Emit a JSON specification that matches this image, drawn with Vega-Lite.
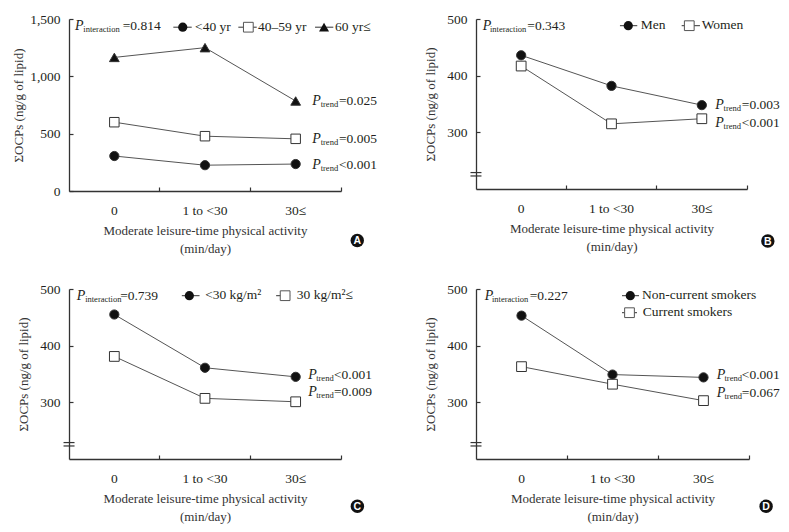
{
"$schema":"https://vega.github.io/schema/vega-lite/v6.json",
"padding":{"left":12,"top":12,"right":0,"bottom":0},
"background":"white",
"datasets":{"ocps":[
{"panel":"A","group":"<40 yr","activity":"0","ocps":305},
{"panel":"A","group":"<40 yr","activity":"1 to <30","ocps":225},
{"panel":"A","group":"<40 yr","activity":"30≤","ocps":235},
{"panel":"A","group":"40–59 yr","activity":"0","ocps":600},
{"panel":"A","group":"40–59 yr","activity":"1 to <30","ocps":478},
{"panel":"A","group":"40–59 yr","activity":"30≤","ocps":455},
{"panel":"A","group":"60 yr≤","activity":"0","ocps":1165},
{"panel":"A","group":"60 yr≤","activity":"1 to <30","ocps":1250},
{"panel":"A","group":"60 yr≤","activity":"30≤","ocps":785},
{"panel":"B","group":"Men","activity":"0","ocps":436},
{"panel":"B","group":"Men","activity":"1 to <30","ocps":382},
{"panel":"B","group":"Men","activity":"30≤","ocps":348},
{"panel":"B","group":"Women","activity":"0","ocps":417},
{"panel":"B","group":"Women","activity":"1 to <30","ocps":315},
{"panel":"B","group":"Women","activity":"30≤","ocps":324},
{"panel":"C","group":"<30 kg/m²","activity":"0","ocps":455},
{"panel":"C","group":"<30 kg/m²","activity":"1 to <30","ocps":361},
{"panel":"C","group":"<30 kg/m²","activity":"30≤","ocps":345},
{"panel":"C","group":"30 kg/m²≤","activity":"0","ocps":381},
{"panel":"C","group":"30 kg/m²≤","activity":"1 to <30","ocps":307},
{"panel":"C","group":"30 kg/m²≤","activity":"30≤","ocps":301},
{"panel":"D","group":"Non-current smokers","activity":"0","ocps":453},
{"panel":"D","group":"Non-current smokers","activity":"1 to <30","ocps":349},
{"panel":"D","group":"Non-current smokers","activity":"30≤","ocps":344},
{"panel":"D","group":"Current smokers","activity":"0","ocps":363},
{"panel":"D","group":"Current smokers","activity":"1 to <30","ocps":332},
{"panel":"D","group":"Current smokers","activity":"30≤","ocps":303}
]},
"config":{"view":{"stroke":null},
"axis":{"domainColor":"#333","domainWidth":1.3,"tickColor":"#333","tickWidth":1.2,"labelFont":"Liberation Serif","labelFontSize":13.5,"labelColor":"#231f20","titleFont":"Liberation Serif","titleFontSize":13,"titleFontWeight":"normal","titleColor":"#333","grid":false},
"text":{"font":"Liberation Serif","color":"#231f20","align":"left","baseline":"middle"}},
"resolve":{"scale":{"x":"independent","y":"independent","shape":"independent","fill":"independent","size":"independent"}},
"columns":2,
"spacing":{"row":26,"column":47},
"concat":[
{"width":272,"height":172,
"layer":[
{"data":{"name":"ocps"},"transform":[{"filter":"datum.panel === 'A'"}],
"mark":{"type":"line","color":"#555","strokeWidth":1},
"encoding":{
"x":{"field":"activity","type":"nominal","scale":{"type":"band","domain":["0","1 to <30","30≤"],"paddingInner":0,"paddingOuter":0},"axis":{"title":["Moderate leisure-time physical activity","(min/day)"],"bandPosition":1,"labelOffset":0,"tickSize":-4,"labelPadding":16,"labelAngle":0,"titlePadding":8,"titleLineHeight":18}},
"y":{"field":"ocps","type":"quantitative","scale":{"domain":[0,1500],"nice":false,"zero":false},"axis":{"title":"ΣOCPs (ng/g of lipid)","values":[0,500,1000,1500],"format":",.0f","tickSize":-4,"labelPadding":13,"titlePadding":4}},
"detail":{"field":"group"}}},
{"data":{"name":"ocps"},"transform":[{"filter":"datum.panel === 'A'"}],
"mark":{"type":"point","filled":true,"opacity":1,"stroke":"#333","strokeWidth":1},
"encoding":{"x":{"field":"activity","type":"nominal"},"y":{"field":"ocps","type":"quantitative"},
"shape":{"field":"group","type":"nominal","scale":{"domain":["<40 yr","40–59 yr","60 yr≤"],"range":["circle","square","triangle-up"]},"legend":null},
"fill":{"field":"group","type":"nominal","scale":{"domain":["<40 yr","40–59 yr","60 yr≤"],"range":["#111111","#ffffff","#111111"]},"legend":null},
"size":{"field":"group","type":"nominal","scale":{"domain":["<40 yr","40–59 yr","60 yr≤"],"range":[85,95,100]},"legend":null}}},
{"data":{"values":[{}]},"mark":{"type":"text","fontSize":14,"fontStyle":"italic","xOffset":-39.3,"yOffset":7.2},"encoding":{"x":{"datum":"0"},"y":{"datum":1500},"text":{"value":"P"}}},
{"data":{"values":[{}]},"mark":{"type":"text","fontSize":8.5,"xOffset":-31,"yOffset":10.2},"encoding":{"x":{"datum":"0"},"y":{"datum":1500},"text":{"value":"interaction"}}},
{"data":{"values":[{}]},"mark":{"type":"text","fontSize":13.5,"xOffset":8.4,"yOffset":7.2},"encoding":{"x":{"datum":"0"},"y":{"datum":1500},"text":{"value":"=0.814"}}},
{"data":{"values":[{}]},"mark":{"type":"rule","color":"#333","strokeWidth":1,"xOffset":59,"x2Offset":77.4,"yOffset":8.2},"encoding":{"x":{"datum":"0"},"x2":{"datum":"0"},"y":{"datum":1500}}},
{"data":{"values":[{}]},"mark":{"type":"point","shape":"circle","filled":true,"color":"#111","opacity":1,"size":85,"xOffset":68.4,"yOffset":8.2},"encoding":{"x":{"datum":"0"},"y":{"datum":1500}}},
{"data":{"values":[{}]},"mark":{"type":"text","fontSize":13.5,"xOffset":80.7,"yOffset":7.7},"encoding":{"x":{"datum":"0"},"y":{"datum":1500},"text":{"value":"<40 yr"}}},
{"data":{"values":[{}]},"mark":{"type":"rule","color":"#333","strokeWidth":1,"xOffset":124,"x2Offset":142.4,"yOffset":8.2},"encoding":{"x":{"datum":"0"},"x2":{"datum":"0"},"y":{"datum":1500}}},
{"data":{"values":[{}]},"mark":{"type":"point","shape":"square","filled":true,"fill":"white","stroke":"#555","strokeWidth":1,"opacity":1,"size":95,"xOffset":134,"yOffset":8.2},"encoding":{"x":{"datum":"0"},"y":{"datum":1500}}},
{"data":{"values":[{}]},"mark":{"type":"text","fontSize":13.5,"xOffset":143.7,"yOffset":7.7},"encoding":{"x":{"datum":"0"},"y":{"datum":1500},"text":{"value":"40–59 yr"}}},
{"data":{"values":[{}]},"mark":{"type":"rule","color":"#333","strokeWidth":1,"xOffset":200.7,"x2Offset":219,"yOffset":8.2},"encoding":{"x":{"datum":"0"},"x2":{"datum":"0"},"y":{"datum":1500}}},
{"data":{"values":[{}]},"mark":{"type":"point","shape":"triangle-up","filled":true,"color":"#111","opacity":1,"size":100,"xOffset":209.7,"yOffset":8.2},"encoding":{"x":{"datum":"0"},"y":{"datum":1500}}},
{"data":{"values":[{}]},"mark":{"type":"text","fontSize":13.5,"xOffset":220.7,"yOffset":7.7},"encoding":{"x":{"datum":"0"},"y":{"datum":1500},"text":{"value":"60 yr≤"}}},
{"data":{"values":[{}]},"mark":{"type":"text","fontSize":14,"fontStyle":"italic","xOffset":16.6,"yOffset":0},"encoding":{"x":{"datum":"30≤"},"y":{"datum":785},"text":{"value":"P"}}},
{"data":{"values":[{}]},"mark":{"type":"text","fontSize":8.5,"xOffset":25,"yOffset":3},"encoding":{"x":{"datum":"30≤"},"y":{"datum":785},"text":{"value":"trend"}}},
{"data":{"values":[{}]},"mark":{"type":"text","fontSize":13.5,"xOffset":43.3,"yOffset":0},"encoding":{"x":{"datum":"30≤"},"y":{"datum":785},"text":{"value":"=0.025"}}},
{"data":{"values":[{}]},"mark":{"type":"text","fontSize":14,"fontStyle":"italic","xOffset":16.6,"yOffset":0},"encoding":{"x":{"datum":"30≤"},"y":{"datum":455},"text":{"value":"P"}}},
{"data":{"values":[{}]},"mark":{"type":"text","fontSize":8.5,"xOffset":25,"yOffset":3},"encoding":{"x":{"datum":"30≤"},"y":{"datum":455},"text":{"value":"trend"}}},
{"data":{"values":[{}]},"mark":{"type":"text","fontSize":13.5,"xOffset":43.3,"yOffset":0},"encoding":{"x":{"datum":"30≤"},"y":{"datum":455},"text":{"value":"=0.005"}}},
{"data":{"values":[{}]},"mark":{"type":"text","fontSize":14,"fontStyle":"italic","xOffset":16.6,"yOffset":0.7},"encoding":{"x":{"datum":"30≤"},"y":{"datum":235},"text":{"value":"P"}}},
{"data":{"values":[{}]},"mark":{"type":"text","fontSize":8.5,"xOffset":25,"yOffset":3.7},"encoding":{"x":{"datum":"30≤"},"y":{"datum":235},"text":{"value":"trend"}}},
{"data":{"values":[{}]},"mark":{"type":"text","fontSize":13.5,"xOffset":43.3,"yOffset":0.7},"encoding":{"x":{"datum":"30≤"},"y":{"datum":235},"text":{"value":"<0.001"}}},
{"data":{"values":[{}]},"mark":{"type":"point","shape":"circle","filled":true,"color":"#111","opacity":1,"size":180,"xOffset":61.6,"yOffset":49.5},"encoding":{"x":{"datum":"30≤"},"y":{"datum":0}}},
{"data":{"values":[{}]},"mark":{"type":"text","font":"Liberation Sans","fontWeight":"bold","fontSize":10.5,"color":"white","align":"center","xOffset":61.6,"yOffset":50},"encoding":{"x":{"datum":"30≤"},"y":{"datum":0},"text":{"value":"A"}}}
]},
{"width":271,"height":170,
"layer":[
{"data":{"name":"ocps"},"transform":[{"filter":"datum.panel === 'B'"}],
"mark":{"type":"line","color":"#555","strokeWidth":1},
"encoding":{
"x":{"field":"activity","type":"nominal","scale":{"type":"band","domain":["0","1 to <30","30≤"],"paddingInner":0,"paddingOuter":0},"axis":{"title":["Moderate leisure-time physical activity","(min/day)"],"bandPosition":1,"labelOffset":0,"tickSize":-4,"labelPadding":16,"labelAngle":0,"titlePadding":8,"titleLineHeight":18}},
"y":{"field":"ocps","type":"quantitative","scale":{"domain":[200,500],"nice":false,"zero":false},"axis":{"title":"ΣOCPs (ng/g of lipid)","values":[300,400,500],"tickSize":-4,"labelPadding":13,"titlePadding":9}},
"detail":{"field":"group"}}},
{"data":{"name":"ocps"},"transform":[{"filter":"datum.panel === 'B'"}],
"mark":{"type":"point","filled":true,"opacity":1,"stroke":"#333","strokeWidth":1},
"encoding":{"x":{"field":"activity","type":"nominal"},"y":{"field":"ocps","type":"quantitative"},
"shape":{"field":"group","type":"nominal","scale":{"domain":["Men","Women"],"range":["circle","square"]},"legend":null},
"fill":{"field":"group","type":"nominal","scale":{"domain":["Men","Women"],"range":["#111111","#ffffff"]},"legend":null},
"size":{"field":"group","type":"nominal","scale":{"domain":["Men","Women"],"range":[85,95]},"legend":null}}},
{"data":{"values":[{}]},"mark":{"type":"rule","color":"#333","strokeWidth":1.2,"xOffset":-50.7,"x2Offset":-39.7},"encoding":{"x":{"datum":"0"},"x2":{"datum":"0"},"y":{"datum":229}}},
{"data":{"values":[{}]},"mark":{"type":"rule","color":"#333","strokeWidth":1.2,"xOffset":-50.7,"x2Offset":-39.7},"encoding":{"x":{"datum":"0"},"x2":{"datum":"0"},"y":{"datum":223}}},
{"data":{"values":[{}]},"mark":{"type":"text","fontSize":14,"fontStyle":"italic","xOffset":-38.5,"yOffset":6.7},"encoding":{"x":{"datum":"0"},"y":{"datum":500},"text":{"value":"P"}}},
{"data":{"values":[{}]},"mark":{"type":"text","fontSize":8.5,"xOffset":-31.2,"yOffset":9.7},"encoding":{"x":{"datum":"0"},"y":{"datum":500},"text":{"value":"interaction"}}},
{"data":{"values":[{}]},"mark":{"type":"text","fontSize":13.5,"xOffset":6.1,"yOffset":6.7},"encoding":{"x":{"datum":"0"},"y":{"datum":500},"text":{"value":"=0.343"}}},
{"data":{"values":[{}]},"mark":{"type":"rule","color":"#333","strokeWidth":1,"xOffset":98.8,"x2Offset":116.1,"yOffset":6.7},"encoding":{"x":{"datum":"0"},"x2":{"datum":"0"},"y":{"datum":500}}},
{"data":{"values":[{}]},"mark":{"type":"point","shape":"circle","filled":true,"color":"#111","opacity":1,"size":85,"xOffset":107.1,"yOffset":6.7},"encoding":{"x":{"datum":"0"},"y":{"datum":500}}},
{"data":{"values":[{}]},"mark":{"type":"text","fontSize":13.5,"xOffset":119.5,"yOffset":6.2},"encoding":{"x":{"datum":"0"},"y":{"datum":500},"text":{"value":"Men"}}},
{"data":{"values":[{}]},"mark":{"type":"rule","color":"#333","strokeWidth":1,"xOffset":160.5,"x2Offset":178.8,"yOffset":6.7},"encoding":{"x":{"datum":"0"},"x2":{"datum":"0"},"y":{"datum":500}}},
{"data":{"values":[{}]},"mark":{"type":"point","shape":"square","filled":true,"fill":"white","stroke":"#555","strokeWidth":1,"opacity":1,"size":95,"xOffset":168.1,"yOffset":6.7},"encoding":{"x":{"datum":"0"},"y":{"datum":500}}},
{"data":{"values":[{}]},"mark":{"type":"text","fontSize":13.5,"xOffset":180.5,"yOffset":6.2},"encoding":{"x":{"datum":"0"},"y":{"datum":500},"text":{"value":"Women"}}},
{"data":{"values":[{}]},"mark":{"type":"text","fontSize":14,"fontStyle":"italic","xOffset":13.4,"yOffset":0},"encoding":{"x":{"datum":"30≤"},"y":{"datum":348},"text":{"value":"P"}}},
{"data":{"values":[{}]},"mark":{"type":"text","fontSize":8.5,"xOffset":21.7,"yOffset":3},"encoding":{"x":{"datum":"30≤"},"y":{"datum":348},"text":{"value":"trend"}}},
{"data":{"values":[{}]},"mark":{"type":"text","fontSize":13.5,"xOffset":40,"yOffset":0},"encoding":{"x":{"datum":"30≤"},"y":{"datum":348},"text":{"value":"=0.003"}}},
{"data":{"values":[{}]},"mark":{"type":"text","fontSize":14,"fontStyle":"italic","xOffset":13.4,"yOffset":4.7},"encoding":{"x":{"datum":"30≤"},"y":{"datum":324},"text":{"value":"P"}}},
{"data":{"values":[{}]},"mark":{"type":"text","fontSize":8.5,"xOffset":21.7,"yOffset":7.7},"encoding":{"x":{"datum":"30≤"},"y":{"datum":324},"text":{"value":"trend"}}},
{"data":{"values":[{}]},"mark":{"type":"text","fontSize":13.5,"xOffset":40,"yOffset":4.7},"encoding":{"x":{"datum":"30≤"},"y":{"datum":324},"text":{"value":"<0.001"}}},
{"data":{"values":[{}]},"mark":{"type":"point","shape":"circle","filled":true,"color":"#111","opacity":1,"size":180,"xOffset":66,"yOffset":52},"encoding":{"x":{"datum":"30≤"},"y":{"datum":200}}},
{"data":{"values":[{}]},"mark":{"type":"text","font":"Liberation Sans","fontWeight":"bold","fontSize":10.5,"color":"white","align":"center","xOffset":66,"yOffset":52.5},"encoding":{"x":{"datum":"30≤"},"y":{"datum":200},"text":{"value":"B"}}}
]},
{"width":272,"height":170,
"layer":[
{"data":{"name":"ocps"},"transform":[{"filter":"datum.panel === 'C'"}],
"mark":{"type":"line","color":"#555","strokeWidth":1},
"encoding":{
"x":{"field":"activity","type":"nominal","scale":{"type":"band","domain":["0","1 to <30","30≤"],"paddingInner":0,"paddingOuter":0},"axis":{"title":["Moderate leisure-time physical activity","(min/day)"],"bandPosition":1,"labelOffset":0,"tickSize":-4,"labelPadding":16,"labelAngle":0,"titlePadding":8,"titleLineHeight":18}},
"y":{"field":"ocps","type":"quantitative","scale":{"domain":[200,500],"nice":false,"zero":false},"axis":{"title":"ΣOCPs (ng/g of lipid)","values":[300,400,500],"tickSize":-4,"labelPadding":13,"titlePadding":9}},
"detail":{"field":"group"}}},
{"data":{"name":"ocps"},"transform":[{"filter":"datum.panel === 'C'"}],
"mark":{"type":"point","filled":true,"opacity":1,"stroke":"#333","strokeWidth":1},
"encoding":{"x":{"field":"activity","type":"nominal"},"y":{"field":"ocps","type":"quantitative"},
"shape":{"field":"group","type":"nominal","scale":{"domain":["<30 kg/m²","30 kg/m²≤"],"range":["circle","square"]},"legend":null},
"fill":{"field":"group","type":"nominal","scale":{"domain":["<30 kg/m²","30 kg/m²≤"],"range":["#111111","#ffffff"]},"legend":null},
"size":{"field":"group","type":"nominal","scale":{"domain":["<30 kg/m²","30 kg/m²≤"],"range":[85,95]},"legend":null}}},
{"data":{"values":[{}]},"mark":{"type":"rule","color":"#333","strokeWidth":1.2,"xOffset":-50.8,"x2Offset":-39.8},"encoding":{"x":{"datum":"0"},"x2":{"datum":"0"},"y":{"datum":229}}},
{"data":{"values":[{}]},"mark":{"type":"rule","color":"#333","strokeWidth":1.2,"xOffset":-50.8,"x2Offset":-39.8},"encoding":{"x":{"datum":"0"},"x2":{"datum":"0"},"y":{"datum":223}}},
{"data":{"values":[{}]},"mark":{"type":"text","fontSize":14,"fontStyle":"italic","xOffset":-37.5,"yOffset":6.7},"encoding":{"x":{"datum":"0"},"y":{"datum":500},"text":{"value":"P"}}},
{"data":{"values":[{}]},"mark":{"type":"text","fontSize":8.5,"xOffset":-29.2,"yOffset":9.7},"encoding":{"x":{"datum":"0"},"y":{"datum":500},"text":{"value":"interaction"}}},
{"data":{"values":[{}]},"mark":{"type":"text","fontSize":13.5,"xOffset":5.8,"yOffset":6.7},"encoding":{"x":{"datum":"0"},"y":{"datum":500},"text":{"value":"=0.739"}}},
{"data":{"values":[{}]},"mark":{"type":"rule","color":"#333","strokeWidth":1,"xOffset":67.5,"x2Offset":85.2,"yOffset":6.7},"encoding":{"x":{"datum":"0"},"x2":{"datum":"0"},"y":{"datum":500}}},
{"data":{"values":[{}]},"mark":{"type":"point","shape":"circle","filled":true,"color":"#111","opacity":1,"size":85,"xOffset":75,"yOffset":6.7},"encoding":{"x":{"datum":"0"},"y":{"datum":500}}},
{"data":{"values":[{}]},"mark":{"type":"text","fontSize":13.5,"xOffset":90.8,"yOffset":6.2},"encoding":{"x":{"datum":"0"},"y":{"datum":500},"text":{"value":"<30 kg/m²"}}},
{"data":{"values":[{}]},"mark":{"type":"rule","color":"#333","strokeWidth":1,"xOffset":161.8,"x2Offset":175.8,"yOffset":6.7},"encoding":{"x":{"datum":"0"},"x2":{"datum":"0"},"y":{"datum":500}}},
{"data":{"values":[{}]},"mark":{"type":"point","shape":"square","filled":true,"fill":"white","stroke":"#555","strokeWidth":1,"opacity":1,"size":95,"xOffset":170.8,"yOffset":6.7},"encoding":{"x":{"datum":"0"},"y":{"datum":500}}},
{"data":{"values":[{}]},"mark":{"type":"text","fontSize":13.5,"xOffset":182.5,"yOffset":6.2},"encoding":{"x":{"datum":"0"},"y":{"datum":500},"text":{"value":"30 kg/m²≤"}}},
{"data":{"values":[{}]},"mark":{"type":"text","fontSize":14,"fontStyle":"italic","xOffset":12.7,"yOffset":-2},"encoding":{"x":{"datum":"30≤"},"y":{"datum":345},"text":{"value":"P"}}},
{"data":{"values":[{}]},"mark":{"type":"text","fontSize":8.5,"xOffset":20.5,"yOffset":1},"encoding":{"x":{"datum":"30≤"},"y":{"datum":345},"text":{"value":"trend"}}},
{"data":{"values":[{}]},"mark":{"type":"text","fontSize":13.5,"xOffset":38.3,"yOffset":-2},"encoding":{"x":{"datum":"30≤"},"y":{"datum":345},"text":{"value":"<0.001"}}},
{"data":{"values":[{}]},"mark":{"type":"text","fontSize":14,"fontStyle":"italic","xOffset":12.7,"yOffset":-9.3},"encoding":{"x":{"datum":"30≤"},"y":{"datum":301},"text":{"value":"P"}}},
{"data":{"values":[{}]},"mark":{"type":"text","fontSize":8.5,"xOffset":20.5,"yOffset":-6.3},"encoding":{"x":{"datum":"30≤"},"y":{"datum":301},"text":{"value":"trend"}}},
{"data":{"values":[{}]},"mark":{"type":"text","fontSize":13.5,"xOffset":38.3,"yOffset":-9.3},"encoding":{"x":{"datum":"30≤"},"y":{"datum":301},"text":{"value":"=0.009"}}},
{"data":{"values":[{}]},"mark":{"type":"point","shape":"circle","filled":true,"color":"#111","opacity":1,"size":180,"xOffset":61.7,"yOffset":47.3},"encoding":{"x":{"datum":"30≤"},"y":{"datum":200}}},
{"data":{"values":[{}]},"mark":{"type":"text","font":"Liberation Sans","fontWeight":"bold","fontSize":10.5,"color":"white","align":"center","xOffset":61.7,"yOffset":47.8},"encoding":{"x":{"datum":"30≤"},"y":{"datum":200},"text":{"value":"C"}}}
]},
{"width":273,"height":170,
"layer":[
{"data":{"name":"ocps"},"transform":[{"filter":"datum.panel === 'D'"}],
"mark":{"type":"line","color":"#555","strokeWidth":1},
"encoding":{
"x":{"field":"activity","type":"nominal","scale":{"type":"band","domain":["0","1 to <30","30≤"],"paddingInner":0,"paddingOuter":0},"axis":{"title":["Moderate leisure-time physical activity","(min/day)"],"bandPosition":1,"labelOffset":0,"tickSize":-4,"labelPadding":16,"labelAngle":0,"titlePadding":8,"titleLineHeight":18}},
"y":{"field":"ocps","type":"quantitative","scale":{"domain":[200,500],"nice":false,"zero":false},"axis":{"title":"ΣOCPs (ng/g of lipid)","values":[300,400,500],"tickSize":-4,"labelPadding":13,"titlePadding":9}},
"detail":{"field":"group"}}},
{"data":{"name":"ocps"},"transform":[{"filter":"datum.panel === 'D'"}],
"mark":{"type":"point","filled":true,"opacity":1,"stroke":"#333","strokeWidth":1},
"encoding":{"x":{"field":"activity","type":"nominal"},"y":{"field":"ocps","type":"quantitative"},
"shape":{"field":"group","type":"nominal","scale":{"domain":["Non-current smokers","Current smokers"],"range":["circle","square"]},"legend":null},
"fill":{"field":"group","type":"nominal","scale":{"domain":["Non-current smokers","Current smokers"],"range":["#111111","#ffffff"]},"legend":null},
"size":{"field":"group","type":"nominal","scale":{"domain":["Non-current smokers","Current smokers"],"range":[85,95]},"legend":null}}},
{"data":{"values":[{}]},"mark":{"type":"rule","color":"#333","strokeWidth":1.2,"xOffset":-51,"x2Offset":-40},"encoding":{"x":{"datum":"0"},"x2":{"datum":"0"},"y":{"datum":229}}},
{"data":{"values":[{}]},"mark":{"type":"rule","color":"#333","strokeWidth":1.2,"xOffset":-51,"x2Offset":-40},"encoding":{"x":{"datum":"0"},"x2":{"datum":"0"},"y":{"datum":223}}},
{"data":{"values":[{}]},"mark":{"type":"text","fontSize":14,"fontStyle":"italic","xOffset":-36.8,"yOffset":6.7},"encoding":{"x":{"datum":"0"},"y":{"datum":500},"text":{"value":"P"}}},
{"data":{"values":[{}]},"mark":{"type":"text","fontSize":8.5,"xOffset":-29.5,"yOffset":9.7},"encoding":{"x":{"datum":"0"},"y":{"datum":500},"text":{"value":"interaction"}}},
{"data":{"values":[{}]},"mark":{"type":"text","fontSize":13.5,"xOffset":8.2,"yOffset":6.7},"encoding":{"x":{"datum":"0"},"y":{"datum":500},"text":{"value":"=0.227"}}},
{"data":{"values":[{}]},"mark":{"type":"rule","color":"#333","strokeWidth":1,"xOffset":100.5,"x2Offset":117.5,"yOffset":6.7},"encoding":{"x":{"datum":"0"},"x2":{"datum":"0"},"y":{"datum":500}}},
{"data":{"values":[{}]},"mark":{"type":"point","shape":"circle","filled":true,"color":"#111","opacity":1,"size":85,"xOffset":108.8,"yOffset":6.7},"encoding":{"x":{"datum":"0"},"y":{"datum":500}}},
{"data":{"values":[{}]},"mark":{"type":"text","fontSize":13.5,"xOffset":120.5,"yOffset":6.2},"encoding":{"x":{"datum":"0"},"y":{"datum":500},"text":{"value":"Non-current smokers"}}},
{"data":{"values":[{}]},"mark":{"type":"rule","color":"#333","strokeWidth":1,"xOffset":100.5,"x2Offset":115.5,"yOffset":23.7},"encoding":{"x":{"datum":"0"},"x2":{"datum":"0"},"y":{"datum":500}}},
{"data":{"values":[{}]},"mark":{"type":"point","shape":"square","filled":true,"fill":"white","stroke":"#555","strokeWidth":1,"opacity":1,"size":95,"xOffset":108,"yOffset":23.7},"encoding":{"x":{"datum":"0"},"y":{"datum":500}}},
{"data":{"values":[{}]},"mark":{"type":"text","fontSize":13.5,"xOffset":121.2,"yOffset":23.2},"encoding":{"x":{"datum":"0"},"y":{"datum":500},"text":{"value":"Current smokers"}}},
{"data":{"values":[{}]},"mark":{"type":"text","fontSize":14,"fontStyle":"italic","xOffset":13.3,"yOffset":-2.7},"encoding":{"x":{"datum":"30≤"},"y":{"datum":344},"text":{"value":"P"}}},
{"data":{"values":[{}]},"mark":{"type":"text","fontSize":8.5,"xOffset":21,"yOffset":0.3},"encoding":{"x":{"datum":"30≤"},"y":{"datum":344},"text":{"value":"trend"}}},
{"data":{"values":[{}]},"mark":{"type":"text","fontSize":13.5,"xOffset":38.3,"yOffset":-2.7},"encoding":{"x":{"datum":"30≤"},"y":{"datum":344},"text":{"value":"<0.001"}}},
{"data":{"values":[{}]},"mark":{"type":"text","fontSize":14,"fontStyle":"italic","xOffset":13.3,"yOffset":-8},"encoding":{"x":{"datum":"30≤"},"y":{"datum":303},"text":{"value":"P"}}},
{"data":{"values":[{}]},"mark":{"type":"text","fontSize":8.5,"xOffset":21,"yOffset":-5},"encoding":{"x":{"datum":"30≤"},"y":{"datum":303},"text":{"value":"trend"}}},
{"data":{"values":[{}]},"mark":{"type":"text","fontSize":13.5,"xOffset":38.3,"yOffset":-8},"encoding":{"x":{"datum":"30≤"},"y":{"datum":303},"text":{"value":"=0.067"}}},
{"data":{"values":[{}]},"mark":{"type":"point","shape":"circle","filled":true,"color":"#111","opacity":1,"size":180,"xOffset":62.6,"yOffset":47.3},"encoding":{"x":{"datum":"30≤"},"y":{"datum":200}}},
{"data":{"values":[{}]},"mark":{"type":"text","font":"Liberation Sans","fontWeight":"bold","fontSize":10.5,"color":"white","align":"center","xOffset":62.6,"yOffset":47.8},"encoding":{"x":{"datum":"30≤"},"y":{"datum":200},"text":{"value":"D"}}}
]}
]
}
